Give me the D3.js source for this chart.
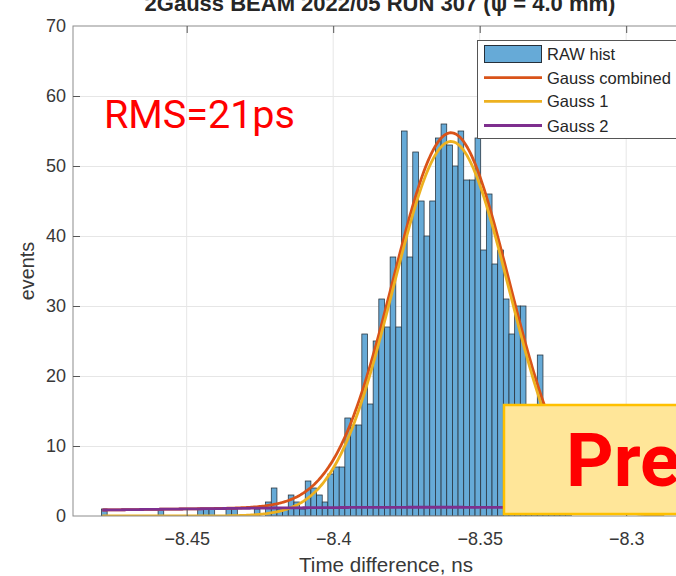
<!DOCTYPE html>
<html>
<head>
<meta charset="utf-8">
<script src="https://cdn.jsdelivr.net/npm/d3@7"></script>
<style>
  html, body { margin: 0; padding: 0; background: #fff; overflow: hidden; }
  svg { display: block; }
</style>
</head>
<body>
<svg id="chart" width="676" height="576"></svg>
<script>
// ---- data -------------------------------------------------------------
// histogram: left edge of the first bin, bin width (ns) and counts per bin
const binStart = -8.47908;
const binWidth = 0.0019317;
const counts = [
  1, 0, 0, 0, 0, 0, 0, 0, 0, 0,
  1, 0, 0, 0, 0, 0, 0, 1, 1, 1,
  0, 0, 1, 1, 0, 0, 0, 1, 0, 2,
  4, 1, 1, 3, 2, 1, 5, 4, 3, 2,
  6, 7, 7, 14, 13, 13, 26, 16, 25, 31,
  27, 37, 27, 55, 37, 52, 45, 40, 45, 54,
  56, 53, 50, 55, 48, 48, 54, 38, 46, 36,
  38, 31, 26, 30, 30, 14, 12, 23, 9, 6,
  4, 2, 1
];

// fitted gaussians: [amplitude, mean (ns), sigma (ns)]; the combined fit is their sum
const gauss1 = [53.5, -8.3598, 0.0198];
const gauss2 = [1.25, -8.365, 0.13];
const fitRange = [-8.4788, -8.2870];

const xTicks = [-8.45, -8.4, -8.35, -8.3];
const yTicks = [0, 10, 20, 30, 40, 50, 60, 70];

const legendNames = ["RAW hist", "Gauss combined", "Gauss 1", "Gauss 2"];
const legendColors = ["#66aad7", "#d95319", "#edb120", "#7e2f8e"];

const titleText = "2Gauss BEAM 2022/05  RUN 307 (\u03c8 = 4.0 mm)";
const xLabel = "Time difference, ns";
const yLabel = "events";
const rmsText = "RMS=21ps";
const stampText = "Preliminary";

(function draw() {
  // ---- layout ----------------------------------------------------------
  const pL = 73, pT = 26, pB = 516, pR = 743.4;
  const svg = d3.select("#chart");

  const x = d3.scaleLinear().domain([-8.4888, -8.2600]).range([pL, pR]);
  const y = d3.scaleLinear().domain([0, 70]).range([pB, pT]);

  const axisFont = "'Liberation Sans', Arial, Helvetica, sans-serif";

  svg.append("defs").append("clipPath").attr("id", "plotClip")
    .append("rect").attr("x", pL).attr("y", pT)
    .attr("width", pR - pL).attr("height", pB - pT);

  // grid
  const grid = svg.append("g").attr("stroke", "#e6e6e6").attr("stroke-width", 1);
  grid.selectAll("line.gx").data(xTicks).join("line")
    .attr("x1", d => x(d)).attr("x2", d => x(d))
    .attr("y1", pT).attr("y2", pB);
  grid.selectAll("line.gy").data(yTicks.filter(d => d > 0 && d < 70)).join("line")
    .attr("x1", pL).attr("x2", pR)
    .attr("y1", d => Math.round(y(d)) + 0.5).attr("y2", d => Math.round(y(d)) + 0.5);

  const plot = svg.append("g").attr("clip-path", "url(#plotClip)");

  // histogram bars
  const bins = counts.map((c, i) => ({ x0: binStart + i * binWidth, x1: binStart + (i + 1) * binWidth, c }))
    .filter(d => d.c > 0);
  plot.append("g").selectAll("rect").data(bins).join("rect")
    .attr("x", d => x(d.x0))
    .attr("width", d => x(d.x1) - x(d.x0))
    .attr("y", d => y(d.c))
    .attr("height", d => y(0) - y(d.c))
    .attr("fill", legendColors[0])
    .attr("stroke", "#26303a")
    .attr("stroke-width", 0.75);

  // fit curves
  const gauss = (p, t) => p[0] * Math.exp(-0.5 * Math.pow((t - p[1]) / p[2], 2));
  const nSamples = 400;
  const tSamples = d3.range(nSamples + 1).map(i => fitRange[0] + (fitRange[1] - fitRange[0]) * i / nSamples);
  const line = d3.line().x(d => x(d[0])).y(d => y(d[1]));

  const curves = [
    { color: legendColors[1], pts: tSamples.map(t => [t, gauss(gauss1, t) + gauss(gauss2, t)]) },
    { color: legendColors[2], pts: tSamples.map(t => [t, gauss(gauss1, t)]) },
    { color: legendColors[3], pts: tSamples.map(t => [t, gauss(gauss2, t)]) }
  ];
  plot.append("g").selectAll("path").data(curves).join("path")
    .attr("d", d => line(d.pts))
    .attr("fill", "none")
    .attr("stroke", d => d.color)
    .attr("stroke-width", 2.8)
    .attr("stroke-linejoin", "round");

  // frame
  svg.append("rect").attr("x", pL).attr("y", pT)
    .attr("width", pR - pL).attr("height", pB - pT)
    .attr("fill", "none").attr("stroke", "#8c8c8c").attr("stroke-width", 1);

  // axes with inward ticks
  const xAxis = svg.append("g").attr("transform", `translate(0,${pB})`)
    .call(d3.axisBottom(x).tickValues(xTicks).tickSize(-7).tickSizeOuter(0).tickPadding(16)
      .tickFormat(d => d3.format("")(d)));
  const xAxisTop = svg.append("g").attr("transform", `translate(0,${pT})`)
    .call(d3.axisTop(x).tickValues(xTicks).tickSize(-7).tickSizeOuter(0).tickFormat(""));
  const yAxis = svg.append("g").attr("transform", `translate(${pL},0)`)
    .call(d3.axisLeft(y).tickValues(yTicks).tickSize(-7).tickSizeOuter(0).tickPadding(7));

  [xAxis, xAxisTop, yAxis].forEach(g => {
    g.select(".domain").remove();
    g.selectAll(".tick line").attr("stroke", "#555");
    g.selectAll(".tick text").attr("fill", "#383838")
      .attr("font-family", axisFont).attr("font-size", 18);
  });
  yAxis.selectAll(".tick line").filter(d => d === 0 || d === 70).remove();

  // labels
  svg.append("text").attr("x", 386).attr("y", 572).attr("text-anchor", "middle")
    .attr("font-family", axisFont).attr("font-size", 20.6).attr("fill", "#383838")
    .text(xLabel);
  svg.append("text").attr("transform", `translate(34,${(pT + pB) / 2}) rotate(-90)`)
    .attr("text-anchor", "middle")
    .attr("font-family", axisFont).attr("font-size", 19.8).attr("fill", "#383838")
    .text(yLabel);
  svg.append("text").attr("x", 380).attr("y", 11).attr("text-anchor", "middle")
    .attr("font-family", axisFont).attr("font-size", 22).attr("font-weight", "bold")
    .attr("fill", "#262626")
    .text(titleText);

  // legend
  const lg = svg.append("g");
  lg.append("rect").attr("x", 477.5).attr("y", 40.5).attr("width", 210).attr("height", 98)
    .attr("fill", "#fff").attr("stroke", "#555").attr("stroke-width", 1);
  const rowY = [54, 77.7, 101.3, 125.5];
  legendNames.forEach((name, i) => {
    if (i === 0) {
      lg.append("rect").attr("x", 484.5).attr("y", rowY[i] - 8.5).attr("width", 57).attr("height", 17)
        .attr("fill", legendColors[i]).attr("stroke", "#26303a").attr("stroke-width", 1);
    } else {
      lg.append("line").attr("x1", 484).attr("x2", 542).attr("y1", rowY[i]).attr("y2", rowY[i])
        .attr("stroke", legendColors[i]).attr("stroke-width", 2.8);
    }
    lg.append("text").attr("x", 547).attr("y", rowY[i] + 6)
      .attr("font-family", axisFont).attr("font-size", 16.5).attr("fill", "#262626")
      .text(name);
  });

  // annotations
  svg.append("text").attr("x", 104).attr("y", 128)
    .attr("font-family", "Roboto, 'Noto Sans', sans-serif").attr("font-size", 39.5)
    .attr("fill", "#ff0000").text(rmsText);

  svg.append("rect").attr("x", 504).attr("y", 405).attr("width", 200).attr("height", 109)
    .attr("fill", "#ffe699").attr("stroke", "#ffc000").attr("stroke-width", 2.5);
  svg.append("text").attr("x", 566).attr("y", 486)
    .attr("font-family", "Roboto, 'Noto Sans', sans-serif").attr("font-size", 74).attr("font-weight", "bold")
    .attr("fill", "#ff0000").text(stampText);
})();
</script>
</body>
</html>
